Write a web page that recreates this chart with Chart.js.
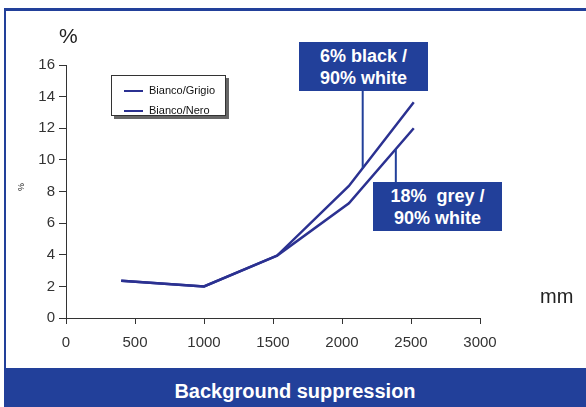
<!DOCTYPE html>
<html>
<head>
<meta charset="utf-8">
<script src="https://cdn.jsdelivr.net/npm/chart.js@4"></script>
<style>
  html, body { margin: 0; padding: 0; background: #fff; }
  body { width: 586px; height: 407px; position: relative; overflow: hidden; font-family: "Liberation Sans", Arial, sans-serif; }
  .frame { position: absolute; left: 4px; top: 8px; width: 582px; height: 360px; border-left: 2px solid #22409a; border-top: 3px solid #22409a; box-sizing: border-box; }
  #wrap { position: absolute; left: 0; top: 0; width: 586px; height: 368px; }
  .bar { position: absolute; left: 4px; top: 368px; width: 582px; height: 39px; background: #22409a; color: #fff; font-weight: bold; font-size: 20px; text-align: center; line-height: 46px; }
  .note { position: absolute; width: 129px; height: 49px; background: #22409a; color: #fff; font-weight: bold; font-size: 18px; line-height: 22px; text-align: center; padding-top: 3px; box-sizing: border-box; }
  .unit { position: absolute; color: #222; }
  .legend { position: absolute; left: 111px; top: 75px; width: 115px; height: 41px; border: 1px solid #333; box-shadow: 3px 3px 0 #666; background: #fff; box-sizing: border-box; padding-top: 4px; }
  .legend div { font-size: 11px; height: 20px; line-height: 20px; color: #111; }
  .legend span { display: inline-block; width: 19px; height: 2px; vertical-align: middle; margin: 0 6px 0 12px; }
</style>
</head>
<body>
<div class="frame"></div>
<div id="wrap"><canvas id="chart" width="586" height="368"></canvas></div>
<div class="unit" style="left:59px;top:24px;font-size:21px;">%</div>
<div class="unit" style="left:540px;top:285px;font-size:20px;">mm</div>
<div class="unit" style="left:17px;top:182px;font-size:9px;transform:rotate(-90deg);">%</div>
<div class="legend" id="legend"></div>
<div class="note" style="left:299px;top:42px;">6% black /<br>90% white</div>
<div class="note" style="left:373px;top:182px;">18%&nbsp; grey /<br>90% white</div>
<div class="bar">Background suppression</div>

<script>
// valori
const distanze = [400, 1000, 1530, 2050, 2520];
const biancoGrigio = [2.35, 2.0, 3.95, 7.25, 12.0];
const biancoNero = [2.35, 2.0, 3.95, 8.35, 13.65];
const xTicks = [0, 500, 1000, 1500, 2000, 2500, 3000];
const yTicks = [0, 2, 4, 6, 8, 10, 12, 14, 16];

const blu = '#2b3191';
const bluBox = '#22409a';

function toPoints(xs, ys) {
    return xs.map((x, i) => ({ x: x, y: ys[i] }));
}

// interpolazione sulla serie per trovare dove finisce il richiamo
function valueAt(xs, ys, x) {
    for (let i = 1; i < xs.length; i++) {
        if (x <= xs[i]) {
            const t = (x - xs[i - 1]) / (xs[i] - xs[i - 1]);
            return ys[i - 1] + t * (ys[i] - ys[i - 1]);
        }
    }
    return ys[ys.length - 1];
}

// linee di richiamo verso i riquadri
const leaders = {
    id: 'leaders',
    afterDatasetsDraw(chart) {
        const ctx = chart.ctx;
        const sx = chart.scales.x, sy = chart.scales.y;
        const items = [
            { x: 2150, ys: biancoNero, box: 91 },
            { x: 2390, ys: biancoGrigio, box: 182 }
        ];
        ctx.save();
        ctx.strokeStyle = bluBox;
        ctx.lineWidth = 2;
        items.forEach(it => {
            const px = sx.getPixelForValue(it.x);
            const py = sy.getPixelForValue(valueAt(distanze, it.ys, it.x));
            ctx.beginPath();
            ctx.moveTo(px, it.box);
            ctx.lineTo(px, py);
            ctx.stroke();
        });
        ctx.restore();
    }
};

const tickFont = { family: '"Liberation Sans", Arial, sans-serif', size: 15 };

const chart = new Chart(document.getElementById('chart'), {
    type: 'line',
    data: {
        datasets: [
            { label: 'Bianco/Grigio', data: toPoints(distanze, biancoGrigio), borderColor: blu, borderWidth: 2.5, pointRadius: 0, tension: 0, fill: false },
            { label: 'Bianco/Nero', data: toPoints(distanze, biancoNero), borderColor: blu, borderWidth: 2.5, pointRadius: 0, tension: 0, fill: false }
        ]
    },
    options: {
        responsive: false,
        animation: false,
        layout: { padding: { left: 0, right: 106, top: 65, bottom: 0 } },
        plugins: { legend: { display: false }, tooltip: { enabled: false } },
        scales: {
            x: {
                type: 'linear', min: 0, max: 3000,
                afterBuildTicks: s => { s.ticks = xTicks.map(v => ({ value: v })); },
                afterFit: s => { s.height = 50; },
                grid: { drawOnChartArea: false, drawTicks: true, tickLength: 6, color: '#333' },
                border: { color: '#333', width: 1 },
                ticks: { color: '#333', font: tickFont, padding: 10, maxRotation: 0, callback: v => String(v) }
            },
            y: {
                min: 0, max: 16,
                afterBuildTicks: s => { s.ticks = yTicks.map(v => ({ value: v })); },
                afterFit: s => { s.width = 66; },
                grid: { drawOnChartArea: false, drawTicks: true, tickLength: 7, color: '#333' },
                border: { color: '#333', width: 1 },
                ticks: { color: '#333', font: tickFont, padding: 4, callback: v => String(v) }
            }
        }
    },
    plugins: [leaders]
});

// legenda HTML dai dataset
const legend = document.getElementById('legend');
chart.data.datasets.forEach(ds => {
    const row = document.createElement('div');
    row.innerHTML = '<span style="background:' + ds.borderColor + '"></span>' + ds.label;
    legend.appendChild(row);
});
</script>
</body>
</html>
